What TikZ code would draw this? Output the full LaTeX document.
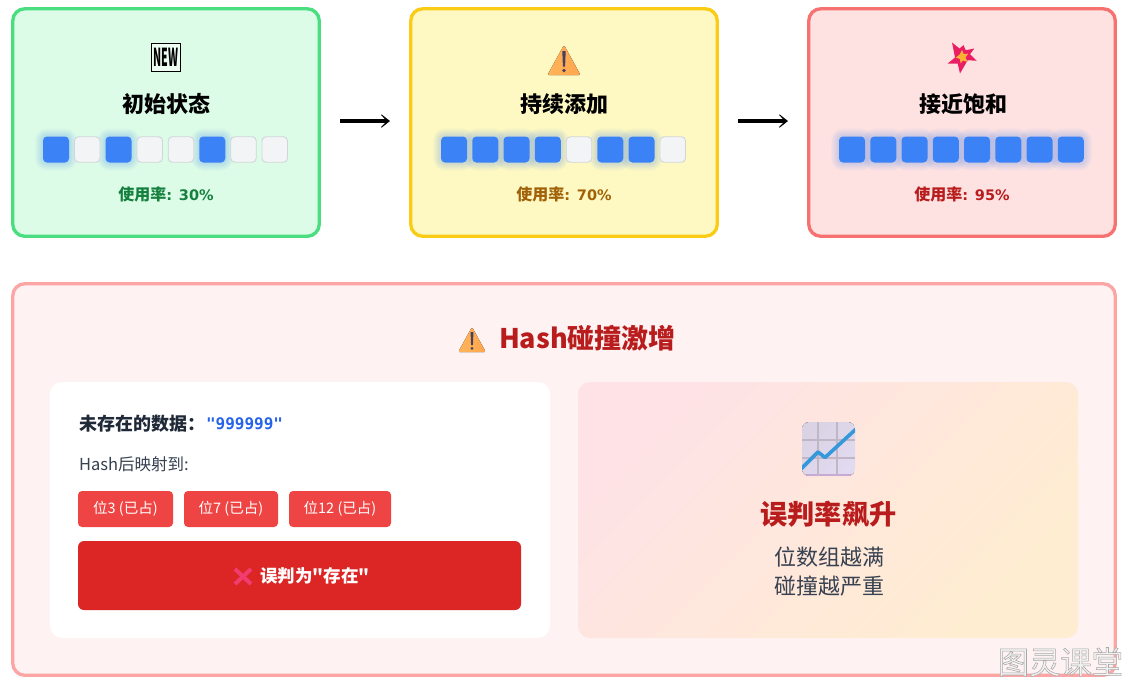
\documentclass[tikz,border=0pt]{standalone}
\usepackage{fontspec}
\setmainfont{Noto Sans CJK SC}
\newfontfamily\rawf{Noto Sans CJK SC}
\newfontfamily\monof{DejaVu Sans Mono}
\newfontfamily\numf{DejaVu Sans}
\usetikzlibrary{arrows.meta,shapes.geometric}
\newcommand\fs[1]{\fontsize{\the\dimexpr #1pt*3/4\relax}{\the\dimexpr #1pt*9/8\relax}\selectfont}
\definecolor{cellblue}{HTML}{3B82F6}
\definecolor{celle}{HTML}{F3F4F6}
\definecolor{celld}{HTML}{D1D5DB}
\definecolor{panelred}{HTML}{B91C1C}
\definecolor{txtgray}{HTML}{374151}
\definecolor{txtdark}{HTML}{1F2937}
\definecolor{gborder}{HTML}{4ADE80}
\definecolor{gfill}{HTML}{DCFCE7}
\definecolor{gtext}{HTML}{15803D}
\definecolor{yborder}{HTML}{FACC15}
\definecolor{yfill}{HTML}{FEF9C3}
\definecolor{ytext}{HTML}{A16207}
\definecolor{rborder}{HTML}{F87171}
\definecolor{rfill}{HTML}{FEE2E2}
\definecolor{pborder}{HTML}{FCA5A5}
\definecolor{pfill}{HTML}{FEF2F2}
\definecolor{qblue}{HTML}{2563EB}
\definecolor{chipred}{HTML}{EF4444}
\definecolor{barred}{HTML}{DC2626}
\definecolor{crossc}{HTML}{F03C6E}
\definecolor{gradA}{HTML}{FEE2E6}
\definecolor{gradB}{HTML}{FFEDD1}
\definecolor{warnA}{HTML}{FFB45A}
\definecolor{warnB}{HTML}{FFA64D}
\definecolor{warnM}{HTML}{45415F}
\definecolor{burstA}{HTML}{E91E63}
\definecolor{burstB}{HTML}{F9B233}
\definecolor{chartA}{HTML}{D9D3E4}
\definecolor{chartB}{HTML}{E2DAF0}
\definecolor{chartG}{HTML}{C0B6C6}
\definecolor{chartE}{HTML}{C8AAD7}
\definecolor{chartL}{HTML}{3498DB}
\tikzset{
  sized/.style 2 args={minimum width=#1*0.75pt,minimum height=#2*0.75pt,inner sep=0pt,outer sep=0pt},
  card/.style 2 args={sized={306.5}{227.5},rounded corners=9pt,line width=2.5pt,draw=#1,fill=#2},
  cellon/.style={sized={26}{26},rounded corners=3pt,fill=cellblue},
  celloff/.style={sized={25.5}{25.5},rounded corners=3pt,fill=celle,draw=celld,line width=0.7pt},
  halo/.style={fill=cellblue,fill opacity=0.03},
  txt/.style={inner sep=0pt,outer sep=0pt},
  chip/.style={rounded corners=3pt,fill=chipred,text=white,font=\fs{14.5}},
  flow/.style={line width=3.4pt,-{Stealth[length=9.5pt,width=15pt,inset=7.2pt]},black},
  warnicon/.pic={
    \fill[left color=warnA,right color=warnB,rounded corners=1.5pt]
      (0,-15.5) -- (16.5,14.5) -- (-16.5,14.5) -- cycle;
    \fill[warnM] (-1.7,-9.5) -- (1.7,-9.5) -- (1.1,6) -- (-1.1,6) -- cycle;
    \fill[warnM] (0,10) circle (1.8);
  },
  burst/.pic={
    \fill[burstA] (-10,-15) -- (-2.5,-9) -- (1.5,-12.3) -- (3.7,-7.3) -- (12.3,-9) -- (8,-3.3) -- (14.7,3.3) -- (5.7,2.7) -- (-2,16) -- (-4.3,6) -- (-14.3,6) -- (-7,0) -- cycle;
    \fill[burstB,scale=1.15] (0,-6.5) -- (1.6,-2.8) -- (5.5,-3.4) -- (3,0) -- (4.8,3.8) -- (0.8,2.6) -- (-1.2,5) -- (-1.8,1.3) -- (-5.5,0) -- (-2.2,-2.4) -- cycle;
  },
}
\newcommand\cellrow[2]{%
  \foreach \st [count=\i from 0] in {#2}{
    \pgfmathsetmacro\cx{#1+13+31.25*\i}
    \ifnum\st=1
      \foreach \k in {1,2,3,4,5,6,7,8}{
        \pgfmathsetmacro\rr{3+\k*0.75}
        \path[halo,rounded corners=\rr pt] (\cx-13-\k,136.5-\k) rectangle (\cx+13+\k,162.5+\k);
      }
    \fi
  }
  \foreach \st [count=\i from 0] in {#2}{
    \pgfmathsetmacro\cx{#1+13+31.25*\i}
    \ifnum\st=1
      \node[cellon] (cell-#1-\i) at (\cx,149.5) {};
    \else
      \node[celloff] (cell-#1-\i) at (\cx,149.5) {};
    \fi
  }%
}
\newcommand\usage[1]{\fs{16}使用率{\numf\fs{14.5}: #1\%}}
\newcommand\low[1]{\raisebox{-1pt}{#1}}
\begin{document}
\begin{tikzpicture}[x=0.75pt,y=-0.75pt]
\useasboundingbox (0,0) rectangle (1131,686);
\fill[white] (0,0) rectangle (1131,686);

% cards
\node[card={gborder}{gfill}] (card1) at (166,122.5) {};
\node[card={yborder}{yfill}] (card2) at (564,122.5) {};
\node[card={rborder}{rfill}] (card3) at (962,122.5) {};

\draw[flow,shorten <=15.6pt,shorten >=15.6pt] ([yshift=1.1pt]card1.east) -- ([yshift=1.1pt]card2.west);
\draw[flow,shorten <=15.6pt,shorten >=15.6pt] ([yshift=1.1pt]card2.east) -- ([yshift=1.1pt]card3.west);

% icons of the cards
\node[sized={28.5}{28.5},draw=black,line width=0.6pt,fill=gfill!50!white] (newicon) at (166,57.5) {\scalebox{0.56}[1.3]{\fs{19}\bfseries NEW}};
\pic at (564,60.5) {warnicon};
\pic at (962,57.5) {burst};

% titles
\node[txt,font=\fs{22}\bfseries] (t1) at (166,104) {初始状态};
\node[txt,font=\fs{22}\bfseries] (t2) at (564.5,104) {持续添加};
\node[txt,font=\fs{22}\bfseries] (t3) at (963,104) {接近饱和};

% bit cells
\cellrow{43}{1,0,1,0,0,1,0,0}
\cellrow{441}{1,1,1,1,0,1,1,0}
\cellrow{839}{1,1,1,1,1,1,1,1}

% usage
\node[txt,font=\bfseries,text=gtext] (u1) at (166,194) {\usage{30}};
\node[txt,font=\bfseries,text=ytext] (u2) at (564,194) {\usage{70}};
\node[txt,font=\bfseries,text=panelred] (u3) at (962,194) {\usage{95}};

% big panel
\node[sized={1102.5}{391.5},rounded corners=9pt,line width=2.5pt,draw=pborder,fill=pfill] (panel) at (564,479.5) {};
\pic[scale=0.84] at (472,340) {warnicon};
\node[txt,anchor=west,font=\fs{27}\bfseries,text=panelred] (ptitle) at (499,338) {Hash碰撞激增};

\node[sized={500}{256},rounded corners=9pt,fill=white] (left) at (300,510) {};
\node[sized={500}{256},rounded corners=9pt,left color=gradA,right color=gradB,shading angle=45] (right) at (828,510) {};

\node[txt,anchor=west,font=\fs{18}\bfseries,text=txtdark] (q1) at (79,424) {未存在的数据：};
\node[txt,anchor=west,font=\fs{16}\monof\bfseries,text=qblue] (q2) at (206,424) {"999999"};
\node[txt,anchor=west,font=\fs{16.5},text=txtgray] (h1) at (79,464) {Hash后映射到:};

\node[chip,sized={95}{36}] (b1) at (125.5,509) {\low{位3 (已占)}};
\node[chip,sized={94}{36}] (b2) at (231,509) {\low{位7 (已占)}};
\node[chip,sized={102}{36}] (b3) at (340,509) {\low{位12 (已占)}};
\node[sized={443}{69},rounded corners=4.5pt,fill=barred] (bar) at (299.5,575.5) {};
\draw[line width=3pt,crossc] (235,569) -- (251,584);
\draw[line width=3pt,crossc] (251,569) -- (235,584);
\node[txt,anchor=west,font=\rawf\fs{17.5}\bfseries,text=white] (barl) at (260,576) {误判为"存在"};

% chart icon
\begin{scope}
\path[clip,rounded corners=5.5pt] (802,422) rectangle (855,476);
\fill[left color=chartA,right color=chartB,shading angle=45] (802,422) rectangle (855,476);
\fill[chartE] (802,474) rectangle (855,476);
\draw[line width=1pt,chartG] (818,422) -- (818,476) (837,422) -- (837,476) (802,440) -- (855,440) (802,458) -- (855,458);
\draw[line width=2.7pt,chartL,line join=round] (801,469) -- (818,452) -- (825,457.5) -- (856,429);
\end{scope}

\node[txt,font=\fs{27.2}\bfseries,text=panelred] (r1) at (828.5,514) {误判率飙升};
\node[txt,font=\fs{22},text=txtgray] (r2) at (829,557) {位数组越满};
\node[txt,font=\fs{22},text=txtgray] (r3) at (829,586) {碰撞越严重};

% watermark
\node[txt,anchor=east,font=\fs{31.3}] (wm) at (1123,662) {\special{pdf:code q 2 Tr 0.4 w 0.66 G 0.95 g}图灵课堂\special{pdf:code Q}};
\end{tikzpicture}
\end{document}
